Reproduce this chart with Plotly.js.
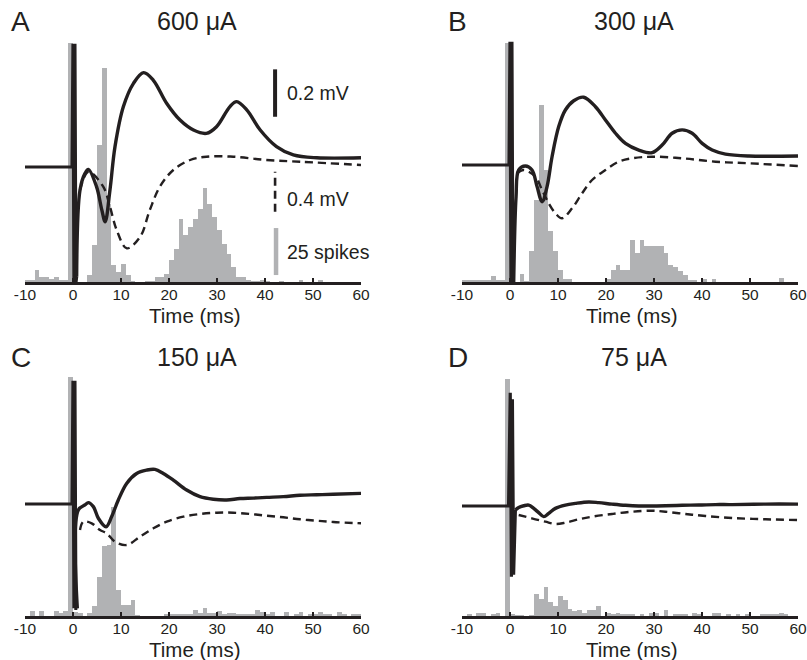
<!DOCTYPE html>
<html>
<head>
<meta charset="utf-8">
<script src="https://cdn.plot.ly/plotly-3.0.1.min.js"></script>
<style>html,body{margin:0;padding:0;background:#fff;}#chart{width:807px;height:660px;}</style>
</head>
<body>
<div id="chart"></div>
<script>
// ---------- DATA ----------
const panelLetters = ["A", "B", "C", "D"];
const panelTitles = ["600 \u03bcA", "300 \u03bcA", "150 \u03bcA", "75 \u03bcA"];
const tickVals = [-10, 0, 10, 20, 30, 40, 50, 60];
const tickText = ["-10", "0", "10", "20", "30", "40", "50", "60"];
const xTitle = "Time (ms)";

// histogram bins (left edge, ms), 1 ms wide
const binLeft = [-10,-9,-8,-7,-6,-5,-4,-3,-2,-1,0,1,2,3,4,5,6,7,8,9,10,11,12,13,14,15,16,17,18,19,
  20,21,22,23,24,25,26,27,28,29,30,31,32,33,34,35,36,37,38,39,40,41,42,43,44,45,46,47,48,49,
  50,51,52,53,54,55,56,57,58,59];

// spike counts per bin
const spikesA = [1.2,1.2,6.2,2.7,2.7,1.8,2.7,1,1,127,0,0,0,3.5,19.5,72.7,113.8,41.7,8.9,5.3,9.8,3.5,0.5,0,0,0.5,0.5,2.7,2.7,4.4,
  11.9,17.7,33.3,24.8,29.3,33.7,39,50.2,41.7,34.6,27.5,20.4,15,8,2.7,2.7,1,0.5,0.5,1.2,0.5,0,0,0.5,0,0,0,1.2,0,0,
  0,1.2,0,0,0,0,0,0,0,0];
const spikesB = [1.2,1.2,1.2,1.2,1.2,1.2,3,1.2,1.2,127,0,0,4.3,0.5,16.3,43.8,94.3,59.8,27,16.3,6.6,1.8,1.8,0,0,0,0,0,0,0,
  1.5,6.6,9.2,6.6,6.6,22.5,15.4,22.5,19,19,19,19,15.4,9.2,7.8,5.7,3.5,1.2,1.2,0,1.6,0,1.6,0,0,0,0,0,0,0,
  0,0,0,0,0,0,2.1,0,0,0];
const spikesC = [0,2.5,0,2.5,0,0,2.5,1.5,2.5,127,2,1.5,0,1.5,5.5,21,37.5,38,58,14,6,6,8.5,0.5,0,0,0,0,0,1,
  1,1,1,1,1,3,1.5,4,1.5,1.5,2.5,1,1.5,1.5,1,1,1,1,3,2,1,2,0,0,2,0,1,2,0,1,
  1,2,1,1,0,2,1,0,1,1];
const spikesD = [0,0.9,0,1.8,1.8,0,0.9,1.8,0,126,1.2,0.4,0.4,0,0.4,11.5,9,15.5,7.5,5.5,10.5,8.7,3.5,2.5,3,1.8,3,3,5.5,0,
  1.8,0.9,1.8,0.9,0.9,0.9,0,0.9,0,1.8,1.8,0,3,0,0.9,0.9,0.9,0,1.8,0.9,0,0,1.8,1.8,0,0.9,0,0.9,0,0.9,
  0,0,0.9,0.9,0.9,0.9,1.8,0.9,0,0];

// recorded potential (solid, mV re baseline): baseline + stimulus artifact
const tArtA = [-10,-0.2,0.0,0.2,0.4,0.6,0.76];
const vArtA = [0,0,0.52,-0.49,0.52,-0.49,-0.463];
const tArtB = [-10,-0.2,0.0,0.2,0.4,0.6,0.77];
const vArtB = [0,0,0.52,-0.495,0.52,-0.495,-0.495];
const tArtC = [-10,-0.2,0.0,0.2,0.4,0.6,0.9];
const vArtC = [0,0,0.52,-0.44,0.52,-0.44,-0.44];
const tArtD = [-10,-0.3,0.05,0.3,0.5,0.75,1.12];
const vArtD = [0,0,0.478,-0.298,0.45,-0.29,-0.017];

// recorded potential (solid, mV) after the artifact
const tRespA = [0.76,1.46,2.5,3.2,4.9,6.0,6.7,7.7,8.75,10.5,12.6,14.7,16.7,19.5,22.3,25.1,27.8,29.9,32.7,34.1,36.2,39,42.4,45.9,50.8,60];
const vRespA = [-0.463,-0.097,-0.027,-0.010,-0.083,-0.181,-0.231,-0.097,0.086,0.255,0.353,0.398,0.367,0.269,0.198,0.156,0.142,0.170,0.255,0.276,0.241,0.156,0.086,0.051,0.039,0.039];
const tRespB = [0.77,1.26,1.81,3.2,4.59,5.64,6.68,7.72,8.76,10.15,11.54,13.28,15.36,17.8,19.88,21.97,24.05,26.83,29.61,31.7,33.78,35.87,37.95,40.03,42.12,44.9,49.76,60];
const vRespB = [-0.495,-0.134,-0.021,-0.004,-0.021,-0.091,-0.155,-0.091,0.035,0.162,0.232,0.271,0.286,0.246,0.19,0.134,0.091,0.063,0.052,0.084,0.134,0.148,0.134,0.091,0.063,0.046,0.038,0.038];
const tRespC = [0.9,1.11,2.5,3.19,4.24,5.28,6.88,8.06,9.44,11.18,13.26,15.35,17.08,18.82,20.9,23.68,26.46,29.24,32.01,34.79,37.57,40.35,43.82,47.29,50.76,54.24,60];
const vRespC = [-0.44,-0.025,-0.004,0.006,-0.011,-0.06,-0.096,-0.053,0.017,0.087,0.129,0.143,0.146,0.129,0.101,0.059,0.031,0.02,0.017,0.023,0.025,0.028,0.031,0.037,0.039,0.041,0.045];
const tRespD = [1.12,1.81,2.86,3.9,4.94,5.98,7.03,8.07,9.46,11.54,13.63,16.41,18.49,21.27,24.05,26.83,29.61,32.39,35.87,39.34,42.82,46.29,53.24,60];
const vRespD = [-0.017,-0.006,0.001,0.004,-0.01,-0.028,-0.045,-0.031,-0.01,0.004,0.011,0.017,0.014,0.008,0.003,0,0,0.001,0.003,0.004,0.006,0.006,0.008,0.008];

// dashed trace (mV)
const tDashA = [1.46,3.2,6.3,7.7,9.1,11.2,14,16,18.1,20.9,24.4,27.8,33.4,40.3,47.3,60];
const vDashA = [-0.23,-0.047,-0.197,-0.397,-0.63,-0.813,-0.697,-0.43,-0.197,-0.03,0.07,0.103,0.103,0.07,0.053,0.02];
const tDashB = [1.47,2.86,5.29,6.68,8.07,9.46,10.85,12.93,15.02,17.1,19.88,22.66,25.44,29.61,35.87,42.82,49.76,60];
const vDashB = [-0.083,-0.05,-0.117,-0.25,-0.383,-0.483,-0.533,-0.433,-0.283,-0.15,-0.05,0.033,0.067,0.083,0.067,0.033,0.017,-0.01];
const tDashC = [1.46,2.15,3.89,5.63,7.01,8.75,11.18,13.96,16.74,19.51,22.99,26.46,29.93,33.4,36.88,40.35,43.82,47.29,50.76,54.24,60];
const vDashC = [-0.26,-0.177,-0.193,-0.26,-0.293,-0.377,-0.41,-0.327,-0.243,-0.177,-0.127,-0.1,-0.087,-0.087,-0.1,-0.117,-0.133,-0.153,-0.167,-0.18,-0.193];
const tDashD = [1.81,3.2,5.29,7.37,9.46,11.54,14.32,17.1,21.27,25.44,29.61,32.39,36.56,40.73,46.29,53.24,60];
const vDashD = [-0.09,-0.107,-0.133,-0.157,-0.18,-0.167,-0.133,-0.107,-0.08,-0.057,-0.047,-0.057,-0.08,-0.1,-0.12,-0.133,-0.14];

// scale bars (panel A)
const scaleBarTime = 42.1;
const scaleSolid = {from: 0.212, size: 0.2, label: "0.2 mV"};
const scaleDash = {from: -0.447, size: 0.4, label: "0.4 mV"};
const scaleSpikes = {from: 3.7, size: 25, label: "25 spikes"};

// ---------- LAYOUT / STYLE ----------
const W = 807, H = 660;
const INK = "#231f20", GRAY = "#b1b2b4";
const FONT = "Liberation Sans, Arial, Helvetica, sans-serif";
const px2x = p => p / W, px2y = p => 1 - p / H;
// panel geometry in pixels: left, right, top, bottom, baseline of voltage traces
const geom = [
  {l: 25, r: 361, t: 40, b: 282, base: 167},
  {l: 462, r: 798, t: 40, b: 282, base: 165},
  {l: 25, r: 361, t: 374, b: 616, base: 504},
  {l: 462, r: 798, t: 374, b: 616, base: 506}
];
const pxPerMvSolid = 237, pxPerMvDash = 100, pxPerSpike = 1.88;

const spikes = [spikesA, spikesB, spikesC, spikesD];
const arts = [[tArtA, vArtA], [tArtB, vArtB], [tArtC, vArtC], [tArtD, vArtD]];
const resps = [[tRespA, vRespA], [tRespB, vRespB], [tRespC, vRespC], [tRespD, vRespD]];
const dashes = [[tDashA, vDashA], [tDashB, vDashB], [tDashC, vDashC], [tDashD, vDashD]];

const data = [];
const layout = {
  width: W, height: H, margin: {l: 0, r: 0, t: 0, b: 0},
  paper_bgcolor: "#fff", plot_bgcolor: "rgba(0,0,0,0)",
  showlegend: false, bargap: 0,
  font: {family: FONT, color: INK},
  annotations: [], shapes: []
};

geom.forEach((g, i) => {
  const xn = i === 0 ? "x" : "x" + (i + 1);
  const yh = 3 * i + 1, ys = 3 * i + 2, yd = 3 * i + 3;
  const yhn = yh === 1 ? "y" : "y" + yh;
  const ysn = "y" + ys, ydn = "y" + yd;
  const xdom = [px2x(g.l), px2x(g.r)];
  const ydom = [px2y(g.b), px2y(g.t)];
  const hpx = g.b - g.t;
  layout[i === 0 ? "xaxis" : "xaxis" + (i + 1)] = {
    domain: xdom, anchor: yhn, range: [-10, 60], fixedrange: true,
    tickmode: "array", tickvals: tickVals, ticktext: tickText,
    ticks: "inside", ticklen: 4, tickwidth: 2, tickcolor: INK,
    showline: true, linewidth: 3, linecolor: INK, zeroline: false, showgrid: false,
    tickfont: {size: 15.5, color: INK, family: FONT},
    ticklabeloverflow: "allow", ticklabelstandoff: -4
  };
  layout[yh === 1 ? "yaxis" : "yaxis" + yh] = {
    domain: ydom, anchor: xn, range: [0, hpx / pxPerSpike], visible: false, fixedrange: true
  };
  layout["yaxis" + ys] = {
    domain: ydom, anchor: xn, overlaying: yhn, visible: false, fixedrange: true,
    range: [-(g.b - g.base) / pxPerMvSolid, (g.base - g.t) / pxPerMvSolid]
  };
  layout["yaxis" + yd] = {
    domain: ydom, anchor: xn, overlaying: yhn, visible: false, fixedrange: true,
    range: [-(g.b - g.base) / pxPerMvDash, (g.base - g.t) / pxPerMvDash]
  };

  data.push({type: "bar", x: binLeft, y: spikes[i], width: 1, offset: 0,
    xaxis: xn, yaxis: yhn, marker: {color: GRAY, line: {width: 0}}, hoverinfo: "skip"});
  data.push({type: "scatter", mode: "lines", x: dashes[i][0], y: dashes[i][1],
    xaxis: xn, yaxis: ydn, line: {color: INK, width: 2.4, dash: "8px,5px", shape: "spline", smoothing: 1}, hoverinfo: "skip"});
  data.push({type: "scatter", mode: "lines", x: arts[i][0], y: arts[i][1],
    xaxis: xn, yaxis: ysn, line: {color: INK, width: 3.2}, hoverinfo: "skip"});
  data.push({type: "scatter", mode: "lines", x: resps[i][0], y: resps[i][1],
    xaxis: xn, yaxis: ysn, line: {color: INK, width: 3.4, shape: "spline", smoothing: 1}, hoverinfo: "skip"});

  // axis title
  layout.annotations.push({xref: "paper", yref: "paper", x: px2x((g.l + g.r) / 2 + 1), y: px2y(g.b + 33),
    xanchor: "center", yanchor: "middle", text: xTitle, showarrow: false,
    font: {size: 20.5, color: INK, family: FONT}});
  // panel letter and title
  const titleRow = i < 2 ? 21 : 357;
  layout.annotations.push({xref: "paper", yref: "paper", x: px2x(g.l - 16), y: px2y(titleRow),
    xanchor: "left", yanchor: "middle", text: panelLetters[i], showarrow: false,
    font: {size: 28, color: INK, family: FONT}});
  layout.annotations.push({xref: "paper", yref: "paper", x: px2x(g.l + 172), y: px2y(titleRow),
    xanchor: "center", yanchor: "middle", text: panelTitles[i], showarrow: false,
    font: {size: 25, color: INK, family: FONT}});
});

// scale bars in panel A
layout.shapes.push({type: "line", xref: "x", yref: "y2", x0: scaleBarTime, x1: scaleBarTime,
  y0: scaleSolid.from, y1: scaleSolid.from + scaleSolid.size, line: {color: INK, width: 4}});
layout.shapes.push({type: "line", xref: "x", yref: "y3", x0: scaleBarTime, x1: scaleBarTime,
  y0: scaleDash.from, y1: scaleDash.from + scaleDash.size, line: {color: INK, width: 2.6, dash: "8px,5px"}});
layout.shapes.push({type: "line", xref: "x", yref: "y", x0: scaleBarTime + 0.2, x1: scaleBarTime + 0.2,
  y0: scaleSpikes.from, y1: scaleSpikes.from + scaleSpikes.size, line: {color: GRAY, width: 4.5}});
const labelX = 44.2;
layout.annotations.push({xref: "x", yref: "y2", x: labelX, y: scaleSolid.from + scaleSolid.size / 2,
  xanchor: "left", yanchor: "middle", text: scaleSolid.label, showarrow: false, font: {size: 19.5, color: INK, family: FONT}});
layout.annotations.push({xref: "x", yref: "y3", x: labelX, y: scaleDash.from + scaleDash.size / 2 - 0.07,
  xanchor: "left", yanchor: "middle", text: scaleDash.label, showarrow: false, font: {size: 19.5, color: INK, family: FONT}});
layout.annotations.push({xref: "x", yref: "y", x: labelX, y: scaleSpikes.from + scaleSpikes.size / 2,
  xanchor: "left", yanchor: "middle", text: scaleSpikes.label, showarrow: false, font: {size: 19.5, color: INK, family: FONT}});

Plotly.newPlot("chart", data, layout, {displayModeBar: false, staticPlot: true});
</script>
</body>
</html>
